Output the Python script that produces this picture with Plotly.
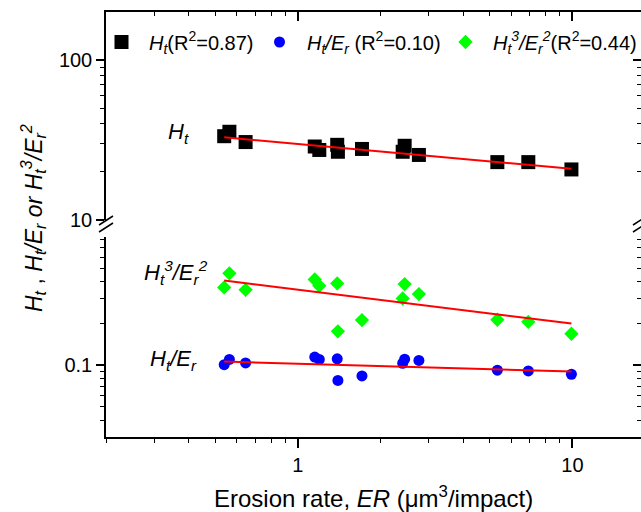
import plotly.graph_objects as go

# ---------------- data ----------------
er = [0.539, 0.563, 0.645, 1.152, 1.197, 1.391, 1.399, 1.712, 2.409, 2.449, 2.760, 5.33, 6.91, 9.92]
ht = [33.4, 35.6, 30.7, 28.8, 27.4, 29.5, 26.7, 27.8, 26.7, 29.1, 25.5, 23.0, 23.0, 20.7]
ht_er = [0.1005, 0.1096, 0.1034, 0.1140, 0.1096, 0.1108, 0.0773, 0.0833, 0.1029, 0.1101, 0.1078, 0.0917, 0.0906, 0.0857]
ht3_er2 = [0.363, 0.459, 0.349, 0.414, 0.373, 0.388, 0.175, 0.211, 0.302, 0.384, 0.325, 0.212, 0.205, 0.168]

fit_x = [0.539, 9.92]
fit_ht = [32.9, 20.9]
fit_ht_er = [0.1058, 0.0896]
fit_ht3_er2 = [0.407, 0.199]

legend_names = [
    "<i>H<sub>t</sub></i>(R<sup>2</sup>=0.87)",
    "<i>H<sub>t</sub>/E<sub>r</sub></i> (R<sup>2</sup>=0.10)",
    "<i>H<sub>t</sub><sup>3</sup>/E<sub>r</sub><sup>2</sup></i>(R<sup>2</sup>=0.44)",
]

FONT = "Liberation Sans, Arial, sans-serif"
RED = "#ff0000"

fig = go.Figure()

# markers
fig.add_trace(go.Scatter(x=er, y=ht, mode="markers", name=legend_names[0], legend="legend",
                         marker=dict(symbol="square", size=14, color="black"),
                         xaxis="x", yaxis="y2"))
fig.add_trace(go.Scatter(x=er, y=ht_er, mode="markers", name=legend_names[1], legend="legend2",
                         marker=dict(symbol="circle", size=11, color="#0000ff"),
                         xaxis="x", yaxis="y"))
fig.add_trace(go.Scatter(x=er, y=ht3_er2, mode="markers", name=legend_names[2], legend="legend3",
                         marker=dict(symbol="diamond", size=11, color="#00ff00"),
                         xaxis="x", yaxis="y"))
# fit lines
for fy, ya in ((fit_ht, "y2"), (fit_ht_er, "y"), (fit_ht3_er2, "y")):
    fig.add_trace(go.Scatter(x=fit_x, y=fy, mode="lines", line=dict(color=RED, width=2),
                             showlegend=False, xaxis="x", yaxis=ya))

# empty traces so that the mirror axes (top / right) get drawn with their ticks
for xa, ya in (("x2", "y2"), ("x", "y3"), ("x", "y4")):
    fig.add_trace(go.Scatter(x=[None], y=[None], mode="markers", showlegend=False,
                             hoverinfo="skip", xaxis=xa, yaxis=ya))

W, H = 641, 512
ML, MR, MT, MB = 106, 0, 12, 75
ph = H - MT - MB  # 425
pw = W - ML - MR

XR = [-0.699, 1.250]
Y_TOP_R = [1.0, 2.3]
Y_BOT_R = [-1.52, -0.074]
top_dom = [(H - MB - 220) / ph, 1.0]
bot_dom = [0.0, (H - MB - 236.7) / ph]

def px_x(px):
    return (px - ML) / pw
def px_y(py):
    return (H - MB - py) / ph

tickfont = dict(family=FONT, size=20, color="black")
common = dict(showgrid=False, zeroline=False, showline=True, linecolor="black", linewidth=1.5,
              tickcolor="black", tickwidth=1.5, tickfont=tickfont)
minor_out = dict(ticks="outside", ticklen=4, tickcolor="black", tickwidth=1.2, dtick="D1", showgrid=False)
minor_in = dict(ticks="inside", ticklen=4, tickcolor="black", tickwidth=1.2, dtick="D1", showgrid=False)

leg_common = dict(orientation="h", xanchor="left", yanchor="middle", y=px_y(42),
                  font=dict(family=FONT, size=20, color="black"), bgcolor="rgba(0,0,0,0)",
                  itemwidth=45)

fig.update_layout(
    width=W, height=H,
    margin=dict(l=ML, r=MR, t=MT, b=MB, autoexpand=False),
    paper_bgcolor="white", plot_bgcolor="white",
    font=dict(family=FONT, color="black"),
    xaxis=dict(type="log", range=XR, anchor="y", dtick=1, ticks="outside", ticklen=9,
               minor=minor_out, **common),
    xaxis2=dict(type="log", range=XR, anchor="y2", overlaying="x", side="top", dtick=1,
                ticks="inside", ticklen=9, showticklabels=False, minor=minor_in, **common),
    yaxis=dict(type="log", range=Y_BOT_R, domain=bot_dom, anchor="x", dtick=1,
               ticks="outside", ticklen=8, minor=minor_out, **common),
    yaxis2=dict(type="log", range=Y_TOP_R, domain=top_dom, anchor="x", dtick=1,
                ticks="outside", ticklen=8, minor=minor_out, **common),
    yaxis3=dict(type="log", range=Y_BOT_R, overlaying="y", side="right", anchor="x", dtick=1,
                ticks="inside", ticklen=8, showticklabels=False, minor=minor_in, **common),
    yaxis4=dict(type="log", range=Y_TOP_R, overlaying="y2", side="right", anchor="x", dtick=1,
                ticks="inside", ticklen=8, showticklabels=False, minor=minor_in, **common),
    legend=dict(x=px_x(121 - 27), **leg_common),
    legend2=dict(x=px_x(279 - 27), **leg_common),
    legend3=dict(x=px_x(465 - 27), **leg_common),
    showlegend=True,
)

ann_font = dict(family=FONT, size=22, color="black")
annotations = [
    dict(text="<i>H<sub>t</sub></i>", x=px_x(178), y=px_y(133)),
    dict(text="<i>H<sub>t</sub><sup>3</sup>/E<sub>r</sub><sup>2</sup></i>", x=px_x(176), y=px_y(272)),
    dict(text="<i>H<sub>t</sub>/E<sub>r</sub></i>", x=px_x(173), y=px_y(360)),
]
for a in annotations:
    fig.add_annotation(xref="paper", yref="paper", showarrow=False, xanchor="center",
                       yanchor="middle", font=ann_font, **a)

fig.add_annotation(xref="paper", yref="paper", showarrow=False, x=px_x(33), y=px_y(218),
                   xanchor="center", yanchor="middle", textangle=-90,
                   font=dict(family=FONT, size=23, color="black"),
                   text="<i>H<sub>t</sub></i> , <i>H<sub>t</sub>/E<sub>r</sub></i> <i>or</i> "
                        "<i>H<sub>t</sub><sup>3</sup>/E<sub>r</sub><sup>2</sup></i>")
fig.add_annotation(xref="paper", yref="paper", showarrow=False, x=px_x(373), y=px_y(497),
                   xanchor="center", yanchor="middle",
                   font=dict(family=FONT, size=24, color="black"),
                   text="Erosion rate, <i>ER</i> (\u03bcm<sup>3</sup>/impact)")

# axis-break marks
for bx in (ML, W - 1):
    for dy in (0, 7):
        fig.add_shape(type="line", xref="paper", yref="paper",
                      x0=px_x(bx - 7), y0=px_y(225 + dy), x1=px_x(bx + 7), y1=px_y(216 + dy),
                      line=dict(color="black", width=1.5))

fig.write_html("out.html", config={"displayModeBar": False},
               post_script="document.body.style.margin='0px';")
